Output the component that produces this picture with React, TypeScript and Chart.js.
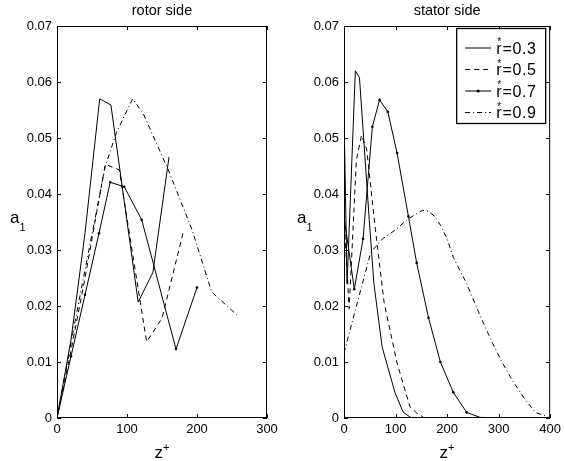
import React, { useEffect, useRef } from "react";
import { Chart, registerables } from "chart.js";

Chart.register(...registerables);

// ---------- data ----------
const rotorTitle = "rotor side";
const statorTitle = "stator side";
const legendValues = ["0.3", "0.5", "0.7", "0.9"];

const yTicks = [0, 0.01, 0.02, 0.03, 0.04, 0.05, 0.06, 0.07];
const yTickLabels = ["0", "0.01", "0.02", "0.03", "0.04", "0.05", "0.06", "0.07"];
const rotorXTicks = [0, 100, 200, 300];
const rotorXTickLabels = ["0", "100", "200", "300"];
const statorXTicks = [0, 100, 200, 300, 400];
const statorXTickLabels = ["0", "100", "200", "300", "400"];

// rotor side
const rotorZ03 = [0, 20, 40, 61, 77, 116, 137, 160];
const rotorA03 = [0, 0.014, 0.033, 0.057, 0.0559, 0.0207, 0.026, 0.0466];
const rotorZ05 = [0, 20, 40, 69, 89, 128, 150, 180];
const rotorA05 = [0, 0.012, 0.025, 0.0453, 0.0443, 0.0136, 0.0178, 0.033];
const rotorZ07 = [0, 20, 40, 60, 76, 96, 121, 170, 200];
const rotorA07 = [0, 0.011, 0.022, 0.033, 0.0421, 0.0413, 0.0354, 0.0123, 0.0233];
const rotorZ09 = [0, 30, 69, 85, 108, 123, 159, 193, 221, 257];
const rotorA09 = [0, 0.02, 0.045, 0.051, 0.057, 0.0544, 0.0443, 0.0336, 0.0225, 0.0184];

// stator side
const statorZ03 = [0, 6, 22, 30, 49, 58, 74, 99, 115, 131];
const statorA03 = [0.0544, 0.024, 0.062, 0.0608, 0.0354, 0.024, 0.0127, 0.0045, 0.001, 0];
const statorZ05 = [0, 10, 24, 34, 44, 61, 78, 103, 128, 141, 156];
const statorA05 = [0.036, 0.0195, 0.046, 0.0505, 0.048, 0.0336, 0.0205, 0.0098, 0.002, 0.0009, 0];
const statorZ07 = [0, 20, 37, 55, 69, 85, 103, 125, 141, 164, 187, 212, 238, 267];
const statorA07 = [0.036, 0.023, 0.032, 0.052, 0.0568, 0.0547, 0.0473, 0.036, 0.0277, 0.0179, 0.01, 0.0046, 0.001, 0];
const statorZ09 = [0, 27, 52, 75, 100, 122, 152, 164, 176, 188, 200, 212, 238, 263, 288, 307, 326, 350, 371, 396];
const statorA09 = [0.0116, 0.021, 0.0296, 0.032, 0.0336, 0.0354, 0.0371, 0.0369, 0.036, 0.0343, 0.032, 0.0287, 0.024, 0.0185, 0.0134, 0.0099, 0.0068, 0.0035, 0.001, 0.0002];

// ---------- styles ----------
const FONT = '"Liberation Sans", Arial, Helvetica, sans-serif';
const W = 565;
const H = 461;
const styles = [
  { dash: [] as number[], point: 0 },
  { dash: [5, 4], point: 0 },
  { dash: [] as number[], point: 1.3 },
  { dash: [5, 3, 1, 3], point: 0 },
];

function pts(xs: number[], ys: number[]) {
  return xs.map((x, i) => ({ x, y: ys[i] }));
}

type PanelCfg = {
  title: string;
  series: { z: number[]; a: number[] }[];
  xMax: number;
  xTicks: number[];
  xTickLabels: string[];
  canvasW: number;
  areaL: number;
  areaR: number;
  legend: boolean;
};

const AREA_T = 26;
const AREA_B = 418;

const decorPlugin = {
  id: "decor",
  afterDraw(chart: any, _args: any, opts: any) {
    const cfg: PanelCfg = opts.cfg;
    const ctx = chart.ctx;
    const { left, right, top, bottom } = chart.chartArea;
    const xs = chart.scales.x;
    const ys = chart.scales.y;
    ctx.save();
    ctx.strokeStyle = "#000";
    ctx.lineWidth = 1;
    ctx.setLineDash([]);
    ctx.strokeRect(left + 0.5, top + 0.5, right - left - 1, bottom - top - 1);
    const tl = 4;
    ctx.beginPath();
    cfg.xTicks.forEach((v) => {
      const px = Math.round(xs.getPixelForValue(v)) + 0.5;
      ctx.moveTo(px, bottom);
      ctx.lineTo(px, bottom - tl);
      ctx.moveTo(px, top);
      ctx.lineTo(px, top + tl);
    });
    yTicks.forEach((v) => {
      const py = Math.round(ys.getPixelForValue(v)) + 0.5;
      ctx.moveTo(left, py);
      ctx.lineTo(left + tl, py);
      ctx.moveTo(right, py);
      ctx.lineTo(right - tl, py);
    });
    ctx.stroke();

    const cx = (left + right) / 2;
    ctx.fillStyle = "#000";
    // title
    ctx.font = `14.5px ${FONT}`;
    ctx.textAlign = "center";
    ctx.textBaseline = "alphabetic";
    ctx.fillText(cfg.title, cx, 15);
    // y label a_1
    ctx.textAlign = "left";
    ctx.font = `17px ${FONT}`;
    const ax = left - 47;
    ctx.fillText("a", ax, 223);
    const aw = ctx.measureText("a").width;
    ctx.font = `11px ${FONT}`;
    ctx.fillText("1", ax + aw, 231);
    // x label z^+
    ctx.font = `17px ${FONT}`;
    const zw = ctx.measureText("z").width;
    ctx.font = `11px ${FONT}`;
    const pw = ctx.measureText("+").width;
    const zx = cx - (zw + pw) / 2;
    ctx.font = `17px ${FONT}`;
    ctx.fillText("z", zx, 458);
    ctx.font = `11px ${FONT}`;
    ctx.fillText("+", zx + zw, 451);

    if (cfg.legend) {
      const bx = right - 94;
      const by = top + 2;
      const bw = 94 - 5;
      const bh = 95;
      ctx.fillStyle = "#fff";
      ctx.fillRect(bx, by, bw, bh);
      ctx.strokeStyle = "#000";
      ctx.lineWidth = 1.3;
      ctx.strokeRect(bx + 0.5, by + 0.5, bw, bh);
      legendValues.forEach((val, i) => {
        const ry = by + 20 + i * 21.5;
        const st = styles[i];
        ctx.lineWidth = 1;
        ctx.setLineDash(st.dash);
        ctx.beginPath();
        ctx.moveTo(bx + 9, ry);
        ctx.lineTo(bx + 35, ry);
        ctx.stroke();
        ctx.setLineDash([]);
        if (st.point) {
          ctx.beginPath();
          ctx.arc(bx + 22, ry, 1.5, 0, Math.PI * 2);
          ctx.fillStyle = "#000";
          ctx.fill();
        }
        ctx.fillStyle = "#000";
        ctx.textAlign = "left";
        ctx.font = `16px ${FONT}`;
        const tx = bx + 40;
        ctx.fillText("r", tx, ry + 5.5);
        const rw = ctx.measureText("r").width;
        ctx.font = `10px ${FONT}`;
        ctx.fillText("*", tx + 1, ry - 3);
        ctx.font = `16px ${FONT}`;
        (ctx as any).letterSpacing = "0.6px";
        ctx.fillText("=" + val, tx + rw + 1, ry + 5.5);
        (ctx as any).letterSpacing = "0px";
      });
    }
    ctx.restore();
  },
};

function Panel({ cfg, left }: { cfg: PanelCfg; left: number }) {
  const ref = useRef<HTMLCanvasElement>(null);
  useEffect(() => {
    if (!ref.current) return;
    const chart = new Chart(ref.current, {
      type: "scatter",
      data: {
        datasets: cfg.series.map((s, i) => ({
          data: pts(s.z, s.a),
          showLine: true,
          borderColor: "#000",
          backgroundColor: "#000",
          borderWidth: 1,
          borderDash: styles[i].dash,
          pointRadius: styles[i].point,
          pointBorderWidth: 0,
          pointHoverRadius: 0,
          tension: 0,
        })),
      },
      options: {
        animation: false,
        responsive: false,
        devicePixelRatio: 1,
        layout: { padding: { top: AREA_T, right: cfg.canvasW - cfg.areaR, left: 0, bottom: 0 } },
        plugins: {
          legend: { display: false },
          tooltip: { enabled: false },
          title: { display: false },
          decor: { cfg },
        } as any,
        scales: {
          x: {
            type: "linear",
            min: 0,
            max: cfg.xMax,
            grid: { display: false, drawTicks: false },
            border: { display: false },
            afterBuildTicks: (s: any) => {
              s.ticks = cfg.xTicks.map((v) => ({ value: v }));
            },
            afterFit: (s: any) => {
              s.height = H - AREA_B;
            },
            ticks: {
              color: "#000",
              padding: 4,
              maxRotation: 0,
              autoSkip: false,
              font: { family: FONT, size: 13 },
              callback: (v: any) => cfg.xTickLabels[cfg.xTicks.indexOf(Number(v))] ?? "",
            },
          },
          y: {
            type: "linear",
            min: 0,
            max: 0.07,
            grid: { display: false, drawTicks: false },
            border: { display: false },
            afterBuildTicks: (s: any) => {
              s.ticks = yTicks.map((v) => ({ value: v }));
            },
            afterFit: (s: any) => {
              s.width = cfg.areaL;
            },
            ticks: {
              color: "#000",
              padding: 5,
              autoSkip: false,
              font: { family: FONT, size: 13 },
              callback: (v: any) => {
                const idx = yTicks.findIndex((t) => Math.abs(t - Number(v)) < 1e-9);
                return idx >= 0 ? yTickLabels[idx] : "";
              },
            },
          },
        },
      },
      plugins: [decorPlugin],
    });
    return () => chart.destroy();
  }, []);
  return (
    <canvas
      ref={ref}
      width={cfg.canvasW}
      height={H}
      style={{ position: "absolute", left, top: 0, width: cfg.canvasW, height: H }}
    />
  );
}

const rotorCfg: PanelCfg = {
  title: rotorTitle,
  series: [
    { z: rotorZ03, a: rotorA03 },
    { z: rotorZ05, a: rotorA05 },
    { z: rotorZ07, a: rotorA07 },
    { z: rotorZ09, a: rotorA09 },
  ],
  xMax: 300,
  xTicks: rotorXTicks,
  xTickLabels: rotorXTickLabels,
  canvasW: 282,
  areaL: 57,
  areaR: 267,
  legend: false,
};

const statorCfg: PanelCfg = {
  title: statorTitle,
  series: [
    { z: statorZ03, a: statorA03 },
    { z: statorZ05, a: statorA05 },
    { z: statorZ07, a: statorA07 },
    { z: statorZ09, a: statorA09 },
  ],
  xMax: 400,
  xTicks: statorXTicks,
  xTickLabels: statorXTickLabels,
  canvasW: 283,
  areaL: 62,
  areaR: 272,
  legend: true,
};

export default function App() {
  return (
    <div style={{ position: "fixed", left: 0, top: 0, width: W, height: H, background: "#fff" }}>
      <Panel cfg={rotorCfg} left={0} />
      <Panel cfg={statorCfg} left={282} />
    </div>
  );
}
